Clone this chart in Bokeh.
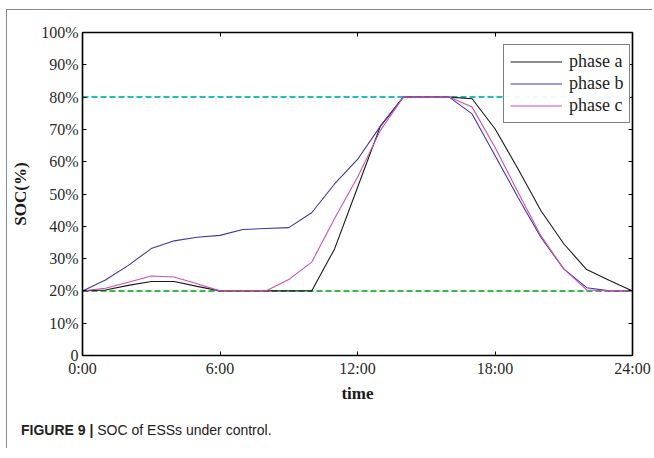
from bokeh.plotting import figure
from bokeh.models import Range1d, LinearAxis, FixedTicker, Legend, LegendItem, Div
from bokeh.layouts import column
from bokeh.embed import file_html
from bokeh.resources import INLINE

hours = list(range(25))
phase_a = [20, 20.3, 21.7, 22.9, 22.9, 21.4, 20, 20, 20, 20, 20, 33, 52, 71, 80, 80, 80,
           79.5, 70.2, 57.8, 44.9, 34.6, 26.6, 23.2, 20]
phase_b = [20, 23.4, 27.9, 33.1, 35.5, 36.6, 37.2, 39, 39.3, 39.6, 44.2, 53.1, 60.7, 71, 80, 80, 80,
           74.8, 61.9, 49, 36.6, 26.8, 21, 20, 20]
phase_c = [20, 20.8, 22.7, 24.6, 24.3, 22.2, 20, 20, 20, 23.5, 28.9, 42.4, 55.2, 69.7, 80, 80, 80,
           76.9, 64.5, 50.6, 37.1, 26.8, 20.3, 20, 20]
upper_limit = 80
lower_limit = 20
x_ticks = [0, 6, 12, 18, 24]
x_tick_labels = ["0:00", "6:00", "12:00", "18:00", "24:00"]
y_ticks = [0, 10, 20, 30, 40, 50, 60, 70, 80, 90, 100]
y_tick_labels = ["0", "10%", "20%", "30%", "40%", "50%", "60%", "70%", "80%", "90%", "100%"]

SERIF = "Liberation Serif"

p = figure(width=646, height=395, x_range=Range1d(0, 24), y_range=Range1d(0, 100),
           output_backend="svg", toolbar_location=None,
           min_border_left=75, min_border_right=20, min_border_top=22, min_border_bottom=50)
p.xgrid.visible = False
p.ygrid.visible = False
p.outline_line_color = "black"
p.outline_line_width = 1.2

def style_axis(ax):
    ax.axis_line_color = "black"
    ax.axis_line_width = 1.5
    ax.major_tick_in = 4
    ax.major_tick_out = 0
    ax.major_tick_line_color = "black"
    ax.minor_tick_line_color = None
    ax.major_label_text_font = SERIF
    ax.major_label_text_font_size = "16px"
    ax.major_label_text_color = "#2a2a2a"
    ax.major_label_standoff = 4

xa = p.xaxis[0]
xa.ticker = FixedTicker(ticks=x_ticks)
xa.major_label_overrides = {t: l for t, l in zip(x_ticks, x_tick_labels)}
xa.axis_label = "time"
style_axis(xa)
xa.axis_label_text_font = SERIF
xa.axis_label_text_font_style = "bold"
xa.axis_label_text_font_size = "17px"
xa.axis_label_text_color = "#1a1a1a"
xa.axis_label_standoff = 4

ya = p.yaxis[0]
ya.ticker = FixedTicker(ticks=y_ticks)
ya.major_label_overrides = {t: l for t, l in zip(y_ticks, y_tick_labels)}
ya.axis_label = "SOC(%)"
style_axis(ya)
ya.axis_label_text_font = SERIF
ya.axis_label_text_font_style = "bold"
ya.axis_label_text_font_size = "17px"
ya.axis_label_text_color = "#1a1a1a"
ya.axis_label_standoff = 8

top = LinearAxis(ticker=FixedTicker(ticks=x_ticks))
style_axis(top)
top.major_label_overrides = {t: "" for t in x_ticks}
top.major_label_standoff = 0
p.add_layout(top, "above")
right = LinearAxis(ticker=FixedTicker(ticks=y_ticks))
style_axis(right)
right.major_label_overrides = {t: "" for t in y_ticks}
right.major_label_standoff = 0
p.add_layout(right, "right")

p.line([hours[0], hours[-1]], [upper_limit, upper_limit], line_color="#1fbdbd",
       line_width=2, line_dash="6 3")
p.line([hours[0], hours[-1]], [lower_limit, lower_limit], line_color="#33bb4a",
       line_width=2, line_dash="6 3")

ra = p.line(hours, phase_a, line_color="#1a1a1a", line_width=1.1)
rb = p.line(hours, phase_b, line_color="#3b37a8", line_width=1.1)
rc = p.line(hours, phase_c, line_color="#d04fae", line_width=1.1)

legend = Legend(items=[LegendItem(label="phase a", renderers=[ra]),
                       LegendItem(label="phase b", renderers=[rb]),
                       LegendItem(label="phase c", renderers=[rc])],
                location=(421, 232))
legend.border_line_color = "black"
legend.border_line_width = 1.2
legend.label_text_font = SERIF
legend.label_text_font_size = "18px"
legend.label_text_color = "#222222"
legend.glyph_width = 52
legend.label_standoff = 7
legend.padding = 6
legend.spacing = 1
legend.margin = 0
legend.label_height = 21
legend.glyph_height = 21
p.add_layout(legend, "center")

caption = Div(text='<b>FIGURE 9 |</b> SOC of ESSs under control.', width=600, height=28,
              margin=(15, 0, 0, 14),
              styles={"font-family": "Liberation Sans", "font-size": "14px", "color": "#222222"})

layout = column(p, caption, width=646, margin=(9, 0, 0, 6),
                styles={"border-top": "1.5px solid #8a8a8a", "border-left": "1.5px solid #8a8a8a"})

open("out.html", "w").write(file_html(layout, INLINE))
